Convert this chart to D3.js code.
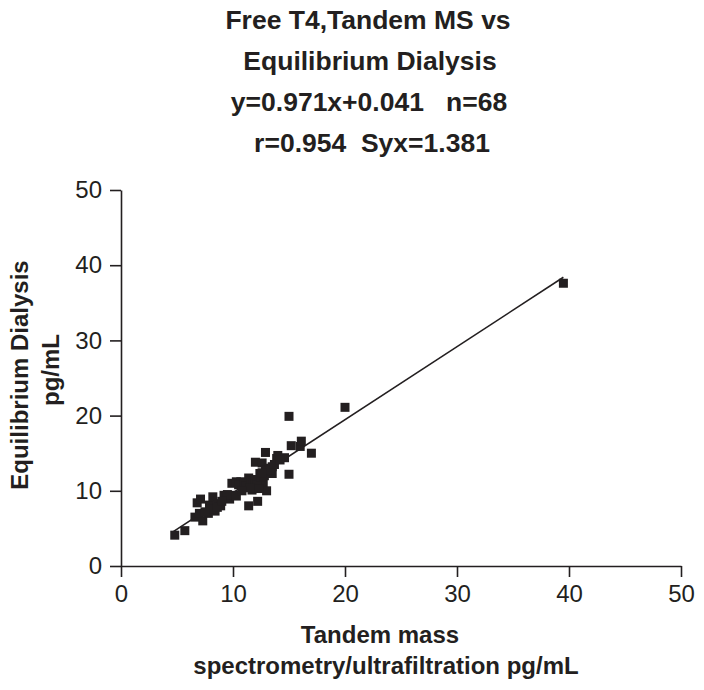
<!DOCTYPE html>
<html>
<head>
<meta charset="utf-8">
<script src="https://cdn.jsdelivr.net/npm/d3@7"></script>
<style>
  body { margin: 0; background: #fff; }
  text { font-family: "Liberation Sans", Arial, sans-serif; fill: #231f20; }
</style>
</head>
<body>
<div id="chart"></div>
<script>
// Tandem MS/ultrafiltration (x) vs equilibrium dialysis (y), pg/mL
const msValues = [4.8, 5.7, 6.6, 6.8, 7.1, 7.3, 7.0, 7.8, 7.9, 8.2, 8.4, 8.7, 8.9, 9.2, 9.7, 9.9,
  10.1, 10.3, 10.3, 10.7, 10.9, 11.4, 11.4, 11.7, 12.0, 12.2, 12.3, 12.4, 12.6, 12.7, 12.9, 12.9,
  13.0, 13.2, 13.5, 13.5, 13.9, 14.0, 14.6, 15.0, 15.0, 15.2, 16.0, 16.1, 17.0, 20.0, 39.5,
  10.5, 11.0, 11.2, 11.6, 11.8, 12.0, 12.1, 12.5, 12.8, 13.0, 13.3, 11.5, 12.3, 10.8, 9.5,
  8.0, 7.5, 8.6, 9.0, 13.7, 14.2, 12.6];
const edValues = [4.1, 4.7, 6.5, 8.4, 8.9, 6.0, 7.0, 7.0, 8.1, 9.2, 7.3, 8.3, 8.0, 9.4, 8.9, 11.0,
  9.4, 9.3, 11.2, 11.2, 10.5, 8.0, 11.7, 10.1, 13.8, 8.6, 11.4, 12.3, 13.7, 11.0, 15.1, 12.8,
  10.0, 13.0, 12.3, 13.2, 14.3, 14.7, 14.4, 19.9, 12.2, 16.0, 15.9, 16.6, 15.0, 21.1, 37.6,
  10.8, 11.0, 10.6, 11.3, 11.0, 11.5, 10.8, 11.8, 12.0, 12.6, 12.8, 10.4, 10.3, 10.0, 9.5,
  7.6, 7.2, 7.8, 8.6, 13.5, 14.1, 12.4];
const fitSlope = 0.971, fitIntercept = 0.041;
const fitRange = [4.6, 39.5];
const ticks = [0, 10, 20, 30, 40, 50];
const titleLines = ["Free T4,Tandem MS vs", "Equilibrium Dialysis", "y=0.971x+0.041   n=68", "r=0.954  Syx=1.381"];

const W = 704, H = 690;
const svg = d3.select("#chart").append("svg").attr("width", W).attr("height", H);

const x = d3.scaleLinear().domain([0, 50]).range([121, 681]);
const y = d3.scaleLinear().domain([0, 50]).range([566, 190]);

// title
const titleX = [368, 370, 369, 372];
const titleY = [29, 70, 111, 152];
titleLines.forEach((t, i) => {
  svg.append("text")
    .attr("x", titleX[i]).attr("y", titleY[i])
    .attr("text-anchor", "middle")
    .attr("font-size", 26.5).attr("font-weight", "bold")
    .style("white-space", "pre")
    .text(t);
});

// axes
const xAxis = svg.append("g").attr("transform", `translate(0,${y(0)})`)
  .call(d3.axisBottom(x).tickValues(ticks).tickSize(11).tickSizeOuter(0).tickPadding(8));
const yAxis = svg.append("g").attr("transform", `translate(${x(0)},0)`)
  .call(d3.axisLeft(y).tickValues(ticks).tickSize(11).tickSizeOuter(0).tickPadding(8));
[xAxis, yAxis].forEach(g => {
  g.select(".domain").attr("stroke", "#231f20").attr("stroke-width", 1.6);
  g.selectAll(".tick line").attr("stroke", "#231f20").attr("stroke-width", 1.6);
  g.selectAll(".tick text").attr("font-size", 24).style("fill", "#231f20")
    .attr("font-family", "Liberation Sans, Arial, sans-serif");
});

// regression line
svg.append("line")
  .attr("x1", x(fitRange[0])).attr("y1", y(fitSlope * fitRange[0] + fitIntercept))
  .attr("x2", x(fitRange[1])).attr("y2", y(fitSlope * fitRange[1] + fitIntercept))
  .attr("stroke", "#231f20").attr("stroke-width", 1.6);

// points
const s = 9;
svg.append("g").selectAll("rect")
  .data(msValues.map((v, i) => [v, edValues[i]]))
  .join("rect")
  .attr("x", d => x(d[0]) - s / 2)
  .attr("y", d => y(d[1]) - s / 2)
  .attr("width", s).attr("height", s)
  .attr("fill", "#231f20");

// axis titles
svg.append("text").attr("x", 380).attr("y", 643).attr("text-anchor", "middle")
  .attr("font-size", 24).attr("font-weight", "bold").text("Tandem mass");
svg.append("text").attr("x", 386).attr("y", 674).attr("text-anchor", "middle")
  .attr("font-size", 24).attr("font-weight", "bold").text("spectrometry/ultrafiltration pg/mL");
svg.append("text").attr("transform", "translate(28,375) rotate(-90)").attr("text-anchor", "middle")
  .attr("font-size", 24).attr("font-weight", "bold").text("Equilibrium Dialysis");
svg.append("text").attr("transform", "translate(59,370) rotate(-90)").attr("text-anchor", "middle")
  .attr("font-size", 24).attr("font-weight", "bold").text("pg/mL");
</script>
</body>
</html>
